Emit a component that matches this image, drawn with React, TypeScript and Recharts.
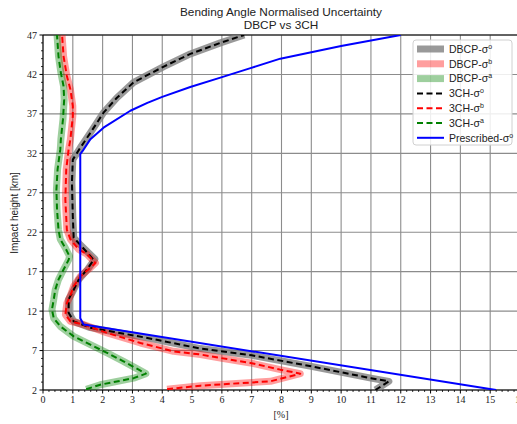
import React from 'react';
import { ScatterChart, Scatter, XAxis, YAxis, CartesianGrid, ReferenceLine } from 'recharts';

// impact heights [km] and normalised uncertainty [%]
const dbcpOH = [2, 3.1, 3.5, 5.0, 6.4, 7.25, 8.6, 9.9, 10.7, 11.1, 11.8, 13.5, 14.7, 16.0, 17.3, 18.6, 20.4, 21.3, 24, 28.3, 31.2, 32.7, 34.6, 37.15, 39.05, 41.0, 43.0, 44.6, 46, 47];
const dbcpOV = [11.15, 11.6, 11.0, 9.0, 7.0, 5.28, 3.5, 1.59, 1.03, 0.97, 0.86, 0.86, 1.03, 1.2, 1.5, 1.74, 1.25, 1.03, 1.0, 0.97, 1.0, 1.25, 1.59, 2.03, 2.48, 3.04, 4.05, 4.94, 5.95, 6.75];
const dbcpBH = [2.1, 2.55, 3.1, 4.07, 4.58, 5.43, 6.06, 6.5, 6.9, 7.96, 9.23, 10.3, 10.7, 11.56, 13.0, 14.0, 15.15, 16.4, 17.5, 18.1, 19.2, 19.8, 21.1, 22.3, 26.15, 30, 32.5, 33.8, 36.7, 38, 40.1, 41.8, 44.3, 47];
const dbcpBV = [4.16, 5.28, 7.63, 8.63, 7.96, 6.96, 5.95, 5.28, 4.38, 3.27, 2.15, 1.36, 0.92, 0.75, 0.8, 0.92, 1.03, 1.25, 1.59, 1.76, 1.48, 1.2, 0.92, 0.8, 0.75, 0.78, 0.86, 0.92, 1.0, 1.0, 0.92, 0.8, 0.69, 0.64];
const dbcpAH = [2.1, 2.67, 3.5, 4.07, 4.58, 5.63, 6.7, 7.75, 8.8, 10.07, 11.1, 12.2, 13.46, 14.7, 16, 17.27, 18.5, 18.95, 20, 21.1, 22.3, 24.9, 27.4, 30, 32.5, 33.8, 36.3, 38.8, 40.5, 42.2, 44.3, 47];
const dbcpAV = [1.45, 1.92, 3.04, 3.45, 3.21, 2.7, 2.15, 1.59, 1.03, 0.58, 0.36, 0.3, 0.36, 0.41, 0.52, 0.69, 0.86, 0.89, 0.75, 0.58, 0.52, 0.47, 0.45, 0.49, 0.58, 0.6, 0.67, 0.71, 0.69, 0.6, 0.52, 0.47];

const tchOH = [2, 3.1, 3.5, 5.0, 6.4, 7.25, 8.6, 9.9, 10.7, 11.1, 11.8, 13.5, 14.7, 16.0, 17.3, 18.5, 20.4, 21.3, 24, 28.3, 31.2, 32.7, 34.6, 37.15, 39.05, 41.0, 43.0, 44.6, 46, 47];
const tchOV = [11.15, 11.6, 11.0, 9.0, 7.0, 5.28, 3.5, 1.59, 1.03, 0.97, 0.86, 0.86, 1.03, 1.2, 1.48, 1.7, 1.25, 1.03, 1.0, 0.97, 1.0, 1.25, 1.59, 2.03, 2.48, 3.04, 4.05, 4.94, 5.95, 6.75];
const tchBH = [2.1, 2.55, 3.1, 4.07, 4.58, 5.43, 6.06, 6.5, 6.9, 7.96, 9.23, 10.3, 10.7, 11.56, 13.0, 14.0, 15.15, 16.4, 17.5, 18.1, 19.2, 19.8, 21.1, 22.3, 26.15, 30, 32.5, 33.8, 36.7, 38, 40.1, 41.8, 44.3, 47];
const tchBV = [4.16, 5.28, 7.63, 8.63, 7.96, 6.96, 5.95, 5.28, 4.38, 3.27, 2.15, 1.36, 0.92, 0.75, 0.8, 0.92, 1.03, 1.25, 1.59, 1.76, 1.48, 1.2, 0.92, 0.8, 0.75, 0.78, 0.86, 0.92, 1.0, 1.0, 0.92, 0.8, 0.69, 0.64];
const tchAH = [2.1, 2.67, 3.5, 4.07, 4.58, 5.63, 6.7, 7.75, 8.8, 10.07, 11.1, 12.2, 13.46, 14.7, 16, 17.27, 18.5, 18.95, 20, 21.1, 22.3, 24.9, 27.4, 30, 32.5, 33.8, 36.3, 38.8, 40.5, 42.2, 44.3, 47];
const tchAV = [1.45, 1.92, 3.04, 3.45, 3.21, 2.7, 2.15, 1.59, 1.03, 0.58, 0.36, 0.3, 0.36, 0.41, 0.52, 0.69, 0.86, 0.89, 0.75, 0.58, 0.52, 0.47, 0.45, 0.49, 0.58, 0.6, 0.67, 0.71, 0.69, 0.6, 0.52, 0.47];

const prescH = [2, 10.3, 11.1, 31.9, 32.3, 33.8, 35.25, 37.4, 38.4, 39.15, 40.4, 41.6, 42.8, 44.0, 45.6, 47];
const prescV = [15.2, 1.36, 1.25, 1.25, 1.33, 1.59, 2.03, 2.93, 3.5, 4.0, 4.94, 5.95, 6.96, 7.96, 10, 12];

const xMajor = [0, 1, 2, 3, 4, 5, 6, 7, 8, 9, 10, 11, 12, 13, 14, 15, 16];
const yMajor = [2, 7, 12, 17, 22, 27, 32, 37, 42, 47];

const xTicks: number[] = [];
for (let k = 0; k <= 80; k++) xTicks.push(Math.round(k * 2) / 10);
const yTicks: number[] = [];
for (let h = 2; h <= 47; h++) yTicks.push(h);

const pts = (hs: number[], vs: number[]) => hs.map((h, i) => ({ x: vs[i], y: h }));

const series = [
  { name: 'DBCP-σ', sup: 'o', data: pts(dbcpOH, dbcpOV), stroke: '#808080', width: 7, opacity: 0.8, dash: undefined },
  { name: 'DBCP-σ', sup: 'b', data: pts(dbcpBH, dbcpBV), stroke: '#ff0000', width: 7, opacity: 0.38, dash: undefined },
  { name: 'DBCP-σ', sup: 'a', data: pts(dbcpAH, dbcpAV), stroke: '#008000', width: 7, opacity: 0.38, dash: undefined },
  { name: '3CH-σ', sup: 'o', data: pts(tchOH, tchOV), stroke: '#000000', width: 2, opacity: 1, dash: '6 3.5' },
  { name: '3CH-σ', sup: 'b', data: pts(tchBH, tchBV), stroke: '#ff0000', width: 2, opacity: 1, dash: '6 3.5' },
  { name: '3CH-σ', sup: 'a', data: pts(tchAH, tchAV), stroke: '#008000', width: 2, opacity: 1, dash: '6 3.5' },
  { name: 'Prescribed-σ', sup: 'o', data: pts(prescH, prescV), stroke: '#0000ff', width: 2, opacity: 1, dash: undefined },
];

const tickFont = '"Liberation Serif", "DejaVu Serif", serif';
const sansFont = '"Liberation Sans", Arial, sans-serif';

const XTick = ({ x, y, payload }: any) => {
  const major = xMajor.includes(payload.value);
  return (
    <g>
      <line x1={x} y1={y} x2={x} y2={y + (major ? 3.5 : 2)} stroke="#000" strokeWidth={major ? 1 : 0.8} />
      {major && (
        <text x={x} y={y + 13} textAnchor="middle" fontSize={10} fontFamily={tickFont} fill="#222">{payload.value}</text>
      )}
    </g>
  );
};

const YTick = ({ x, y, payload }: any) => {
  const major = yMajor.includes(payload.value);
  return (
    <g>
      <line x1={x} y1={y} x2={x - (major ? 3.5 : 2)} y2={y} stroke="#000" strokeWidth={major ? 1 : 0.8} />
      {major && (
        <text x={x - 6} y={y + 3.5} textAnchor="end" fontSize={10} fontFamily={tickFont} fill="#222">{payload.value}</text>
      )}
    </g>
  );
};

export default function App() {
  return (
    <div style={{ position: 'absolute', left: 0, top: 0, width: 517, height: 424, overflow: 'hidden', background: '#fff' }}>
      <ScatterChart width={520} height={424} margin={{ top: 35, right: 0, bottom: 0, left: 0 }}>
        <CartesianGrid verticalValues={xMajor} horizontalValues={yMajor} stroke="#8c8c8c" strokeWidth={1.1} />
        <XAxis
          type="number"
          dataKey="x"
          domain={[0, 16]}
          ticks={xTicks}
          interval={0}
          height={34}
          tickSize={0}
          tickMargin={0}
          tickLine={false}
          tick={<XTick />}
          axisLine={{ stroke: '#000', strokeWidth: 1 }}
          allowDataOverflow
        />
        <YAxis
          type="number"
          dataKey="y"
          domain={[2, 47]}
          ticks={yTicks}
          interval={0}
          width={43}
          tickSize={0}
          tickMargin={0}
          tickLine={false}
          tick={<YTick />}
          axisLine={{ stroke: '#000', strokeWidth: 1 }}
          allowDataOverflow
        />
        <ReferenceLine y={47} stroke="#000" strokeWidth={1} />
        {series.map((s, i) => (
          <Scatter
            key={i}
            data={s.data}
            fill="none"
            lineType="joint"
            line={{ stroke: s.stroke, strokeWidth: s.width, strokeOpacity: s.opacity, strokeDasharray: s.dash, strokeLinejoin: 'round' }}
            shape={() => <g />}
            isAnimationActive={false}
          />
        ))}
      </ScatterChart>
      <svg width={517} height={424} style={{ position: 'absolute', left: 0, top: 0, pointerEvents: 'none' }}>
        <text x={281} y={15.5} textAnchor="middle" fontSize={11.8} fontFamily={sansFont} fill="#222">Bending Angle Normalised Uncertainty</text>
        <text x={281} y={29} textAnchor="middle" fontSize={11.8} fontFamily={sansFont} fill="#222">DBCP vs 3CH</text>
        <text x={281} y={418} textAnchor="middle" fontSize={10} fontFamily={tickFont} fill="#222">[%]</text>
        <text x={18} y={213} textAnchor="middle" fontSize={10} fontFamily={sansFont} fill="#222" transform="rotate(-90 18 213)">Impact height [km]</text>
        <rect x={413} y={40} width={99} height={105} rx={3} fill="#fff" fillOpacity={0.85} stroke="#d0d0d0" strokeWidth={1} />
        {series.map((s, i) => {
          const cy = 49 + i * 14.8;
          return (
            <g key={i}>
              <line x1={417} y1={cy} x2={444} y2={cy} stroke={s.stroke} strokeWidth={s.width} strokeOpacity={s.opacity} strokeDasharray={s.dash} />
              <text x={449} y={cy + 3.8} fontSize={10.5} fontFamily={sansFont} fill="#222">
                {s.name}
                <tspan dy={-4} fontSize={7}>{s.sup}</tspan>
              </text>
            </g>
          );
        })}
      </svg>
    </div>
  );
}
